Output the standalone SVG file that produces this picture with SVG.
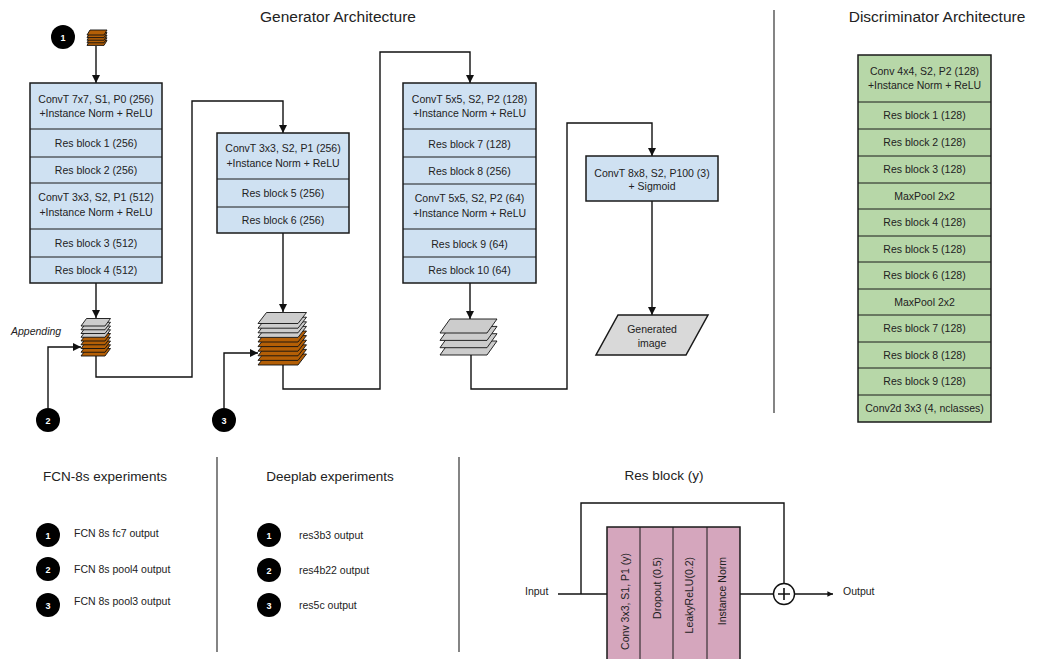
<svg xmlns="http://www.w3.org/2000/svg" width="1046" height="659" viewBox="0 0 1046 659">
  <style>
    text { font-family: "Liberation Sans", Arial, sans-serif; fill: #222; }
    .t { font-size: 10.5px; text-anchor: middle; }
    .title { font-size: 15.5px; text-anchor: middle; }
    .head { font-size: 13.5px; text-anchor: middle; }
    .lbl { font-size: 10.5px; }
    .box { stroke: #1a1a1a; stroke-width: 1.5; }
    .blue { fill: #cfe1f2; }
    .green { fill: #b7d7a8; }
    .pink { fill: #d5a6bd; }
    .div { stroke: #1a1a1a; stroke-width: 1; fill: none; }
    .wire { stroke: #111; stroke-width: 1.4; fill: none; }
    .arr { marker-end: url(#ah); }
    .gray { fill: #cccccc; stroke: #111; stroke-width: 0.9; }
    .brown { fill: #b45f06; stroke: #111; stroke-width: 0.9; }
    .badge { fill: #000; }
    .num { font-size: 9px; font-weight: bold; text-anchor: middle; fill: #fff; }
    .sep { stroke: #333; stroke-width: 1.2; }
  </style>
  <defs>
    <marker id="ah" viewBox="0 0 10 10" refX="10" refY="5" markerWidth="6" markerHeight="6" markerUnits="strokeWidth" orient="auto">
      <path d="M0,0 L10,5 L0,10 z" fill="#111"/>
    </marker>
    <marker id="ahs" viewBox="0 0 10 10" refX="10" refY="5" markerWidth="4" markerHeight="4" markerUnits="strokeWidth" orient="auto">
      <path d="M0,0 L10,5 L0,10 z" fill="#111"/>
    </marker>
    <!-- one slab of a feature stack, large / medium / small / tiny -->
    <polygon id="slabM" points="8.5,0 48.5,0 40,11 0,11"/>
    <polygon id="slabS" points="5.5,0 29.5,0 24,7.5 0,7.5"/>
    <polygon id="slabL" points="10,0 57,0 47,14 0,14"/>
    <polygon id="slabT" points="3,0 20,0 17,5 0,5"/>
  </defs>

  <rect width="1046" height="659" fill="#fff"/>

  <!-- section titles -->
  <text class="title" x="338" y="22">Generator Architecture</text>
  <text class="title" x="937" y="22">Discriminator Architecture</text>
  <line class="sep" x1="774" y1="10" x2="774" y2="413"/>
  <line class="sep" x1="217" y1="457" x2="217" y2="652"/>
  <line class="sep" x1="459" y1="457" x2="459" y2="652"/>

  <!-- connectors -->
  <g id="connectors">
    <path class="wire arr" d="M96,46 V83"/>
    <path class="wire arr" d="M96,283 V318"/>
    <path class="wire arr" d="M96,356 V377 H192 V101 H283 V133"/>
    <path class="wire arr" d="M48,408 V347 H81"/>
    <path class="wire arr" d="M283,233 V312"/>
    <path class="wire arr" d="M224,408 V353 H258"/>
    <path class="wire arr" d="M283,365 V389 H380 V52 H470 V83"/>
    <path class="wire arr" d="M470,283 V319"/>
    <path class="wire arr" d="M471,355 V389 H567 V123 H652 V156"/>
    <path class="wire arr" d="M652,201 V315"/>
    <!-- res block wiring -->
    <path class="wire" d="M558,594 H607"/>
    <path class="wire" d="M581,594 V503 H784 V583.5"/>
    <path class="wire" d="M740,594 H773.5"/>
    <path class="wire" d="M794.5,594 H833" marker-end="url(#ahs)"/>
  </g>

  <!-- input marker 1 with small stack -->
  <g id="badge1">
    <circle class="badge" cx="63" cy="37" r="12"/>
    <text class="num" x="63" y="40.5">1</text>
  </g>
  <g id="stack0">
    <use href="#slabT" class="brown" x="87" y="40.4"/>
    <use href="#slabT" class="brown" x="87" y="37.8"/>
    <use href="#slabT" class="brown" x="87" y="35.2"/>
    <use href="#slabT" class="brown" x="87" y="32.6"/>
    <use href="#slabT" class="brown" x="87" y="30"/>
  </g>

  <!-- generator stage 1 -->
  <g id="gen1">
    <rect class="box blue" x="30" y="83" width="132" height="200"/>
    <path class="div" d="M30,129 H162 M30,157 H162 M30,183 H162 M30,229 H162 M30,257 H162"/>
    <text class="t" x="96" y="103">ConvT 7x7, S1, P0 (256)</text>
    <text class="t" x="96" y="117">+Instance Norm + ReLU</text>
    <text class="t" x="96" y="147">Res block 1 (256)</text>
    <text class="t" x="96" y="174">Res block 2 (256)</text>
    <text class="t" x="96" y="201">ConvT 3x3, S2, P1 (512)</text>
    <text class="t" x="96" y="216">+Instance Norm + ReLU</text>
    <text class="t" x="96" y="247">Res block 3 (512)</text>
    <text class="t" x="96" y="274">Res block 4 (512)</text>
  </g>

  <!-- concatenated stack 1 -->
  <g id="stack1">
    <use href="#slabS" class="brown" x="81" y="348.5"/>
    <use href="#slabS" class="brown" x="81" y="344.75"/>
    <use href="#slabS" class="brown" x="81" y="341"/>
    <use href="#slabS" class="brown" x="81" y="337.25"/>
    <use href="#slabS" class="brown" x="81" y="333.5"/>
    <use href="#slabS" class="gray" x="81" y="329.75"/>
    <use href="#slabS" class="gray" x="81" y="326"/>
    <use href="#slabS" class="gray" x="81" y="322.25"/>
    <use href="#slabS" class="gray" x="81" y="318.5"/>
    <text class="lbl" x="11" y="335" font-style="italic">Appending</text>
  </g>

  <g id="badge2">
    <circle class="badge" cx="48" cy="420" r="12"/>
    <text class="num" x="48" y="423.5">2</text>
  </g>
  <g id="badge3">
    <circle class="badge" cx="224" cy="420" r="12"/>
    <text class="num" x="224" y="423.5">3</text>
  </g>

  <!-- generator stage 2 -->
  <g id="gen2">
    <rect class="box blue" x="217" y="133" width="132" height="100"/>
    <path class="div" d="M217,179 H349 M217,207 H349"/>
    <text class="t" x="283" y="152">ConvT 3x3, S2, P1 (256)</text>
    <text class="t" x="283" y="167">+Instance Norm + ReLU</text>
    <text class="t" x="283" y="197">Res block 5 (256)</text>
    <text class="t" x="283" y="224">Res block 6 (256)</text>
  </g>

  <!-- concatenated stack 2 -->
  <g id="stack2">
    <use href="#slabM" class="brown" x="258" y="354"/>
    <use href="#slabM" class="brown" x="258" y="349.4"/>
    <use href="#slabM" class="brown" x="258" y="344.8"/>
    <use href="#slabM" class="brown" x="258" y="340.2"/>
    <use href="#slabM" class="brown" x="258" y="335.6"/>
    <use href="#slabM" class="brown" x="258" y="331"/>
    <use href="#slabM" class="gray" x="258" y="326.4"/>
    <use href="#slabM" class="gray" x="258" y="321.8"/>
    <use href="#slabM" class="gray" x="258" y="317.2"/>
    <use href="#slabM" class="gray" x="258" y="312.5"/>
  </g>

  <!-- generator stage 3 -->
  <g id="gen3">
    <rect class="box blue" x="403" y="83" width="133" height="200"/>
    <path class="div" d="M403,129 H536 M403,157 H536 M403,184 H536 M403,229 H536 M403,257 H536"/>
    <text class="t" x="469.5" y="103">ConvT 5x5, S2, P2 (128)</text>
    <text class="t" x="469.5" y="117">+Instance Norm + ReLU</text>
    <text class="t" x="469.5" y="148">Res block 7 (128)</text>
    <text class="t" x="469.5" y="175">Res block 8 (256)</text>
    <text class="t" x="469.5" y="202">ConvT 5x5, S2, P2 (64)</text>
    <text class="t" x="469.5" y="217">+Instance Norm + ReLU</text>
    <text class="t" x="469.5" y="248">Res block 9 (64)</text>
    <text class="t" x="469.5" y="274">Res block 10 (64)</text>
  </g>

  <!-- feature stack 3 -->
  <g id="stack3">
    <use href="#slabL" class="gray" x="440" y="341"/>
    <use href="#slabL" class="gray" x="440" y="333.7"/>
    <use href="#slabL" class="gray" x="440" y="326.4"/>
    <use href="#slabL" class="gray" x="440" y="319"/>
  </g>

  <!-- output layer -->
  <g id="gen4">
    <rect class="box blue" x="586" y="156" width="132" height="45"/>
    <text class="t" x="652" y="177">ConvT 8x8, S2, P100 (3)</text>
    <text class="t" x="652" y="190">+ Sigmoid</text>
  </g>
  <g id="generated">
    <polygon class="box" fill="#d9d9d9" points="618,315 708,315 686,355 596,355"/>
    <text class="t" x="652" y="333">Generated</text>
    <text class="t" x="652" y="347">image</text>
  </g>

  <!-- discriminator -->
  <g id="disc">
    <rect class="box green" x="858" y="55" width="133" height="367"/>
    <path class="div" d="M858,102 H991 M858,129 H991 M858,156 H991 M858,183 H991 M858,209 H991 M858,236 H991 M858,262 H991 M858,289 H991 M858,315 H991 M858,342 H991 M858,368 H991 M858,395 H991"/>
    <text class="t" x="924.5" y="75">Conv 4x4, S2, P2 (128)</text>
    <text class="t" x="924.5" y="89">+Instance Norm + ReLU</text>
    <text class="t" x="924.5" y="119">Res block 1 (128)</text>
    <text class="t" x="924.5" y="146">Res block 2 (128)</text>
    <text class="t" x="924.5" y="173">Res block 3 (128)</text>
    <text class="t" x="924.5" y="200">MaxPool 2x2</text>
    <text class="t" x="924.5" y="226">Res block 4 (128)</text>
    <text class="t" x="924.5" y="253">Res block 5 (128)</text>
    <text class="t" x="924.5" y="279">Res block 6 (128)</text>
    <text class="t" x="924.5" y="306">MaxPool 2x2</text>
    <text class="t" x="924.5" y="332">Res block 7 (128)</text>
    <text class="t" x="924.5" y="359">Res block 8 (128)</text>
    <text class="t" x="924.5" y="385">Res block 9 (128)</text>
    <text class="t" x="924.5" y="412">Conv2d 3x3 (4, nclasses)</text>
  </g>

  <!-- FCN-8s legend -->
  <g id="legend-fcn">
    <text class="head" x="105" y="481">FCN-8s experiments</text>
    <circle class="badge" cx="48" cy="535" r="12"/>
    <text class="num" x="48" y="538.5">1</text>
    <text class="lbl" x="74" y="537">FCN 8s fc7 output</text>
    <circle class="badge" cx="48" cy="569" r="12"/>
    <text class="num" x="48" y="572.5">2</text>
    <text class="lbl" x="74" y="573">FCN 8s pool4 output</text>
    <circle class="badge" cx="48" cy="605" r="12"/>
    <text class="num" x="48" y="608.5">3</text>
    <text class="lbl" x="74" y="605">FCN 8s pool3 output</text>
  </g>

  <!-- Deeplab legend -->
  <g id="legend-deeplab">
    <text class="head" x="330" y="481">Deeplab experiments</text>
    <circle class="badge" cx="269" cy="535" r="12"/>
    <text class="num" x="269" y="538.5">1</text>
    <text class="lbl" x="299" y="539">res3b3 output</text>
    <circle class="badge" cx="269" cy="570" r="12"/>
    <text class="num" x="269" y="573.5">2</text>
    <text class="lbl" x="299" y="574">res4b22 output</text>
    <circle class="badge" cx="269" cy="605" r="12"/>
    <text class="num" x="269" y="608.5">3</text>
    <text class="lbl" x="299" y="609">res5c output</text>
  </g>

  <!-- residual block detail -->
  <g id="resblock">
    <text class="head" x="664" y="480">Res block (y)</text>
    <text class="lbl" x="525" y="595">Input</text>
    <text class="lbl" x="843" y="595">Output</text>
    <rect class="box pink" x="607" y="527" width="133" height="140"/>
    <path class="div" d="M640,527 V667 M673,527 V667 M707,527 V667"/>
    <text class="lbl" text-anchor="end" transform="translate(629,553) rotate(-90)">Conv 3x3, S1, P1 (y)</text>
    <text class="lbl" text-anchor="end" transform="translate(661,557) rotate(-90)">Dropout (0.5)</text>
    <text class="lbl" text-anchor="end" transform="translate(693,557) rotate(-90)">LeakyReLU(0.2)</text>
    <text class="lbl" text-anchor="end" transform="translate(726,557) rotate(-90)">Instance Norm</text>
  </g>
  <g id="sum">
    <circle cx="784" cy="594" r="10.5" fill="#fff" stroke="#111" stroke-width="1.4"/>
    <path d="M778,594 H790 M784,588 V600" stroke="#111" stroke-width="1.6"/>
  </g>
</svg>
